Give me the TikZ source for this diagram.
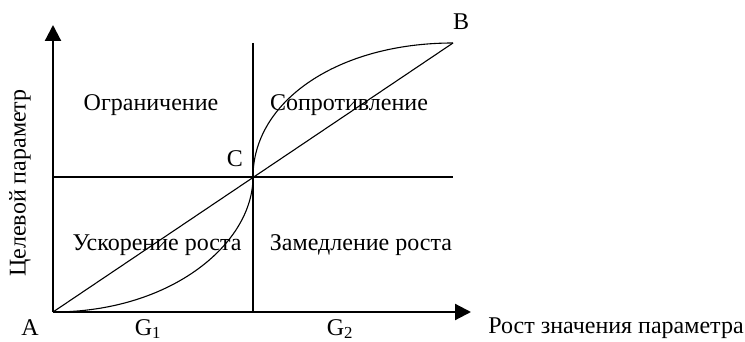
\documentclass[tikz,border=0pt]{standalone}
\usepackage{fontspec}
\setmainfont{Liberation Serif}
\usetikzlibrary{arrows.meta}
\begin{document}
\begin{tikzpicture}[x=1pt,y=-1pt,
  lbl/.style={font=\fontsize{24}{28}\selectfont, inner sep=0pt},
  axis/.style={line width=2.2pt, -{Triangle[length=16pt,width=16pt]}},
  thin/.style={line width=1.1pt}]
\useasboundingbox (0,0) rectangle (745,342);
% key points
\coordinate (A) at (53,312);
\coordinate (C) at (253,177);
\coordinate (B) at (453,43);
\coordinate (xend) at (471,312);
\coordinate (yend) at (53,25);
\coordinate (vtop) at (253,43);
\coordinate (vbot) at (253,312);
\coordinate (hleft) at (53,177);
\coordinate (hright) at (453,177);
% grid lines
\draw[thin] (vtop) -- (vbot);
\draw[thin] (hleft) -- (hright);
% diagonal and curves
\draw[thin] (A) -- (B);
\draw[thin] (A) .. controls (172,312) and (253,243) .. (C);
\draw[thin] (C) .. controls (253,101) and (338,43) .. (B);
% axes
\draw[axis] (A) -- (xend);
\draw[axis] (A) -- (yend);
% labels
\node[lbl] (la) at (30,328) {A};
\node[lbl] (lb) at (461,22) {B};
\node[lbl] (lc) at (235,159) {C};
\node[lbl, anchor=base] (g1) at (148,335) {G\textsubscript{1}};
\node[lbl, anchor=base] (g2) at (340,335) {G\textsubscript{2}};
\node[lbl] (xl) at (616,328) {Рост значения параметра};
\node[lbl, rotate=90] (yl) at (20,183) {Целевой параметр};
\node[lbl] (q1) at (151,105) {Ограничение};
\node[lbl] (q2) at (349,105) {Сопротивление};
\node[lbl] (q3) at (157,245) {Ускорение роста};
\node[lbl] (q4) at (361,245) {Замедление роста};
\end{tikzpicture}
\end{document}
